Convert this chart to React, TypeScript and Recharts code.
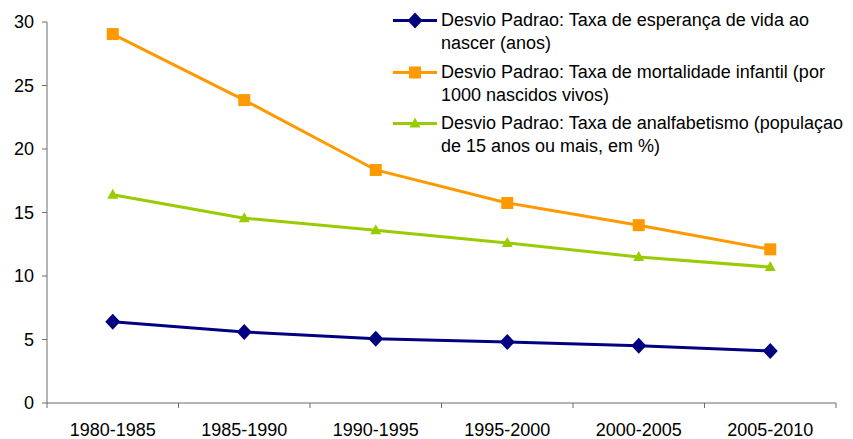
import React from 'react';
import { LineChart, Line, XAxis, YAxis } from 'recharts';

const periods = ['1980-1985', '1985-1990', '1990-1995', '1995-2000', '2000-2005', '2005-2010'];
const lifeExpectancy = [6.4, 5.6, 5.05, 4.8, 4.5, 4.1];
const infantMortality = [29.05, 23.85, 18.35, 15.75, 14.0, 12.1];
const illiteracy = [16.4, 14.55, 13.6, 12.6, 11.5, 10.7];
const yTicks = [0, 5, 10, 15, 20, 25, 30];

// legend labels, split the way the original wraps them
const lifeLabel = ['Desvio Padrao: Taxa de esperança de vida ao', 'nascer (anos)'];
const infantLabel = ['Desvio Padrao: Taxa de mortalidade infantil (por', '1000 nascidos vivos)'];
const illitLabel = ['Desvio Padrao: Taxa de analfabetismo (populaçao', 'de 15 anos ou mais, em %)'];

const data = periods.map((p, i) => ({
  period: p,
  life: lifeExpectancy[i],
  infant: infantMortality[i],
  illit: illiteracy[i],
}));

const W = 845;
const H = 431;
const M = { top: 14, right: 17, bottom: 6, left: 0 };
const Y_W = 39;
const PLOT_W = W - M.left - M.right - Y_W;
const BAND = PLOT_W / periods.length;
const FONT = '"Liberation Sans", Arial, sans-serif';
const AXIS = '#6b6b6b';

const COLORS = { life: '#000080', infant: '#FF9900', illit: '#99CC00' };

type Shape = 'diamond' | 'square' | 'triangle';

const Marker = ({ cx, cy, shape, color }: { cx?: number; cy?: number; shape: Shape; color: string }) => {
  if (cx == null || cy == null) return null;
  if (shape === 'diamond') {
    return <polygon points={`${cx},${cy - 8} ${cx + 7.5},${cy} ${cx},${cy + 8} ${cx - 7.5},${cy}`} fill={color} />;
  }
  if (shape === 'square') {
    const r = 6;
    return <rect x={cx - r} y={cy - r} width={r * 2} height={r * 2} fill={color} />;
  }
  return <polygon points={`${cx},${cy - 6} ${cx + 5.5},${cy + 4} ${cx - 5.5},${cy + 4}`} fill={color} />;
};

const XTick = ({ x, y, payload, index }: { x?: number; y?: number; payload?: { value: string }; index?: number }) => {
  if (x == null || y == null || !payload) return null;
  const last = index === periods.length - 1;
  return (
    <g>
      <line x1={x - BAND / 2} x2={x - BAND / 2} y1={y} y2={y + 5} stroke={AXIS} />
      {last && <line x1={x + BAND / 2} x2={x + BAND / 2} y1={y} y2={y + 5} stroke={AXIS} />}
      <text x={x} y={y + 28} textAnchor="middle" dominantBaseline="middle" fontSize={18} fill="#000" fontFamily={FONT}>
        {payload.value}
      </text>
    </g>
  );
};

const legendItems: { key: 'life' | 'infant' | 'illit'; shape: Shape; lines: string[] }[] = [
  { key: 'life', shape: 'diamond', lines: lifeLabel },
  { key: 'infant', shape: 'square', lines: infantLabel },
  { key: 'illit', shape: 'triangle', lines: illitLabel },
];

const ChartLegend = () => (
  <div
    style={{
      position: 'absolute',
      left: 385,
      top: 1,
      fontFamily: FONT,
      fontSize: 18,
      lineHeight: '23px',
      color: '#000',
      whiteSpace: 'nowrap',
    }}
  >
    {legendItems.map((item) => (
      <div key={item.key} style={{ display: 'flex', alignItems: 'flex-start', marginBottom: 5.5 }}>
        <svg width={48} height={23} style={{ flexShrink: 0 }}>
          <line x1={0} x2={44} y1={11.5} y2={11.5} stroke={COLORS[item.key]} strokeWidth={3} />
          <Marker cx={22} cy={11.5} shape={item.shape} color={COLORS[item.key]} />
        </svg>
        <div>
          {item.lines.map((l, i) => (
            <div key={i}>{l}</div>
          ))}
        </div>
      </div>
    ))}
  </div>
);

export default function App() {
  return (
    <div style={{ position: 'relative', width: W, height: H }}>
      <LineChart width={W} height={H} data={data} margin={M}>
        <XAxis
          dataKey="period"
          scale="band"
          stroke={AXIS}
          tickLine={false}
          tickSize={0}
          tickMargin={0}
          height={30}
          interval={0}
          tick={<XTick />}
        />
        <YAxis
          domain={[0, 30]}
          ticks={yTicks}
          width={Y_W}
          stroke={AXIS}
          tickSize={5}
          tickMargin={8}
          tick={{ fontSize: 18, fill: '#000', fontFamily: FONT }}
        />
        <Line
          dataKey="life"
          name={lifeLabel.join(' ')}
          stroke={COLORS.life}
          strokeWidth={3}
          dot={(p: any) => <Marker key={`l-${p.index}`} cx={p.cx} cy={p.cy} shape="diamond" color={COLORS.life} />}
          isAnimationActive={false}
        />
        <Line
          dataKey="infant"
          name={infantLabel.join(' ')}
          stroke={COLORS.infant}
          strokeWidth={3}
          dot={(p: any) => <Marker key={`i-${p.index}`} cx={p.cx} cy={p.cy} shape="square" color={COLORS.infant} />}
          isAnimationActive={false}
        />
        <Line
          dataKey="illit"
          name={illitLabel.join(' ')}
          stroke={COLORS.illit}
          strokeWidth={3}
          dot={(p: any) => <Marker key={`a-${p.index}`} cx={p.cx} cy={p.cy} shape="triangle" color={COLORS.illit} />}
          isAnimationActive={false}
        />
      </LineChart>
      <ChartLegend />
    </div>
  );
}
